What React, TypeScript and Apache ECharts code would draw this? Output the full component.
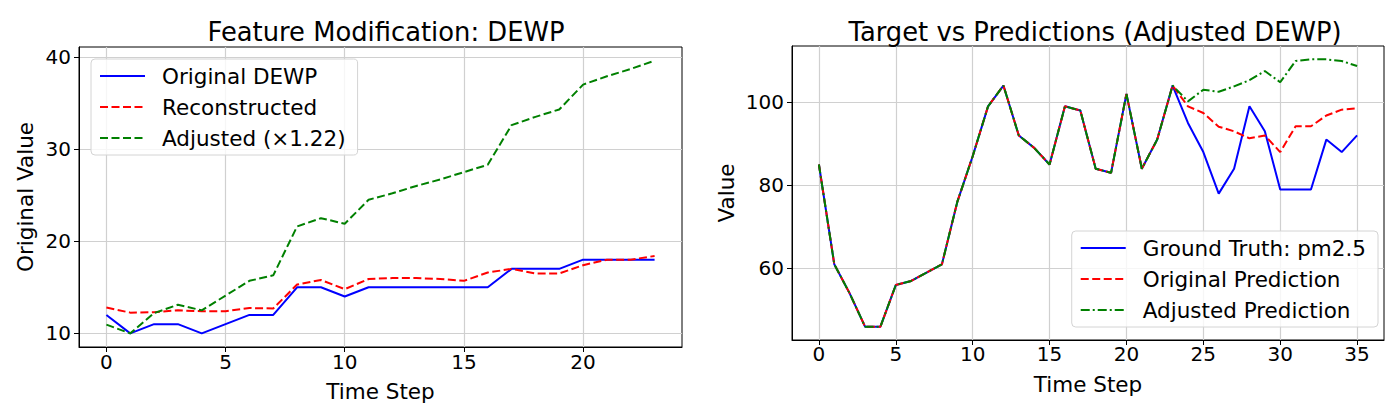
import React, { useEffect, useRef } from "react";
import * as echarts from "echarts";

// Left panel: DEWP feature over time
const originalDewp = [12, 10, 11, 11, 10, 11, 12, 12, 15, 15, 14, 15, 15, 15, 15, 15, 15, 17, 17, 17, 18, 18, 18, 18];
const reconstructedDewp = [12.8, 12.25, 12.3, 12.5, 12.4, 12.4, 12.75, 12.7, 15.3, 15.8, 14.8, 15.9, 16.0, 16.0, 15.9, 15.7, 16.6, 17.0, 16.5, 16.5, 17.4, 18.0, 18.0, 18.4];
const adjustedDewp = [10.95, 10.0, 12.2, 13.1, 12.5, 14.1, 15.7, 16.3, 21.6, 22.5, 21.9, 24.5, 25.2, 26.0, 26.7, 27.5, 28.3, 32.6, 33.5, 34.3, 37.0, 37.9, 38.7, 39.6];

// Right panel: pm2.5 target and the two predictions
const groundTruth = [85, 61, 54, 46, 46, 56, 57, 59, 61, 76, 87, 99, 104, 92, 89, 85, 99, 98, 84, 83, 102, 84, 91, 104, 95, 88, 78, 84, 99, 93, 79, 79, 79, 91, 88, 92];
const originalPrediction = [85, 61, 54, 46, 46, 56, 57, 59, 61, 76, 87, 99, 104, 92, 89, 85, 99, 98, 84, 83, 102, 84, 91, 104, 99.0, 97.4, 94.1, 93.0, 91.3, 92.0, 88.0, 94.2, 94.2, 96.8, 98.2, 98.5];
const adjustedPrediction = [85, 61, 54, 46, 46, 56, 57, 59, 61, 76, 87, 99, 104, 92, 89, 85, 99, 98, 84, 83, 102, 84, 91, 104, 100.2, 103.0, 102.5, 103.8, 105.3, 107.5, 104.8, 109.9, 110.3, 110.3, 109.9, 108.7];

// Tick values
const leftXTicks = [0, 5, 10, 15, 20];
const leftYTicks = [10, 20, 30, 40];
const rightXTicks = [0, 5, 10, 15, 20, 25, 30, 35];
const rightYTicks = [60, 80, 100];

const FONT = "DejaVu Sans";

const toPoints = (values: number[]) => values.map((v, i) => [i, v]);

// matplotlib-like 5% data margins
const padRange = (lists: number[][]) => {
  const all = lists.flat();
  const lo = Math.min(...all);
  const hi = Math.max(...all);
  const pad = (hi - lo) * 0.05;
  return [lo - pad, hi + pad];
};

const axisCommon = (gridIndex: number, min: number, max: number, ticks: number[], labelMargin: number) => ({
  type: "value",
  gridIndex,
  min,
  max,
  axisLine: { show: true, onZero: false, lineStyle: { color: "#000", width: 1 } },
  axisTick: { show: true, inside: false, length: 5, customValues: ticks, lineStyle: { color: "#000", width: 1 } },
  axisLabel: { customValues: ticks, fontSize: 20, color: "#000", fontFamily: FONT, margin: labelMargin },
  splitLine: { show: true, lineStyle: { color: "#d0d0d0", width: 1.2 } },
  nameLocation: "middle",
  nameTextStyle: { fontSize: 21.5, color: "#000", fontFamily: FONT },
});

const lineSeries = (
  name: string,
  values: number[],
  xAxisIndex: number,
  color: string,
  type: any
) => ({
  name,
  type: "line",
  xAxisIndex,
  yAxisIndex: xAxisIndex,
  data: toPoints(values),
  symbol: "none",
  showSymbol: false,
  lineStyle: { color, width: 2, type },
  itemStyle: { color },
  emphasis: { disabled: true },
});

const legendCommon = {
  orient: "vertical",
  backgroundColor: "rgba(255,255,255,0.8)",
  borderColor: "#d4d4d4",
  borderWidth: 1,
  borderRadius: 4,
  itemWidth: 45,
  itemHeight: 14,
  itemGap: 7,
  padding: [5, 12, 5, 8],
  itemStyle: { color: "transparent", opacity: 0, borderWidth: 0 },
  textStyle: { fontSize: 21.5, color: "#000", fontFamily: FONT, lineHeight: 24, padding: [0, 0, 0, 12] },
};

export default function App() {
  const ref = useRef<HTMLDivElement>(null);

  useEffect(() => {
    if (!ref.current) return;
    const chart = echarts.init(ref.current, null, { renderer: "svg" });

    const [lyMin, lyMax] = padRange([originalDewp, reconstructedDewp, adjustedDewp]);
    const [ryMin, ryMax] = padRange([groundTruth, originalPrediction, adjustedPrediction]);
    const lxPad = (originalDewp.length - 1) * 0.05;
    const rxPad = (groundTruth.length - 1) * 0.05;

    const titleStyle = { fontSize: 25.8, fontWeight: "normal", color: "#000", fontFamily: FONT };

    chart.setOption({
      animation: false,
      backgroundColor: "#fff",
      title: [
        { text: "Feature Modification: DEWP", left: 381, top: 14, textAlign: "center", textStyle: titleStyle },
        { text: "Target vs Predictions (Adjusted DEWP)", left: 1090, top: 14, textAlign: "center", textStyle: titleStyle },
      ],
      grid: [
        { left: 79, top: 47, width: 603, height: 300, show: true, borderColor: "#000", borderWidth: 1 },
        { left: 792, top: 46, width: 592, height: 294, show: true, borderColor: "#000", borderWidth: 1 },
      ],
      xAxis: [
        {
          ...axisCommon(0, -lxPad, originalDewp.length - 1 + lxPad, leftXTicks, 5),
          name: "Time Step",
          nameGap: 33,
        },
        {
          ...axisCommon(1, -rxPad, groundTruth.length - 1 + rxPad, rightXTicks, 4),
          name: "Time Step",
          nameGap: 33,
        },
      ],
      yAxis: [
        {
          ...axisCommon(0, lyMin, lyMax, leftYTicks, 8),
          name: "Original Value",
          nameGap: 43,
        },
        {
          ...axisCommon(1, ryMin, ryMax, rightYTicks, 8),
          name: "Value",
          nameGap: 55,
        },
      ],
      legend: [
        {
          ...legendCommon,
          left: 91,
          top: 59,
          data: ["Original DEWP", "Reconstructed", "Adjusted (×1.22)"],
        },
        {
          ...legendCommon,
          right: 17,
          top: 231,
          data: ["Ground Truth: pm2.5", "Original Prediction", "Adjusted Prediction"],
        },
      ],
      series: [
        lineSeries("Original DEWP", originalDewp, 0, "#0000ff", "solid"),
        lineSeries("Reconstructed", reconstructedDewp, 0, "#ff0000", [8, 3.5]),
        lineSeries("Adjusted (×1.22)", adjustedDewp, 0, "#008000", [8, 3.5]),
        lineSeries("Ground Truth: pm2.5", groundTruth, 1, "#0000ff", "solid"),
        lineSeries("Original Prediction", originalPrediction, 1, "#ff0000", [8, 3.5]),
        lineSeries("Adjusted Prediction", adjustedPrediction, 1, "#008000", [9, 3, 2, 3]),
      ],
    });

    return () => chart.dispose();
  }, []);

  return (
    <div
      ref={ref}
      style={{ position: "absolute", left: 0, top: 0, width: 1395, height: 412, background: "#fff" }}
    />
  );
}
